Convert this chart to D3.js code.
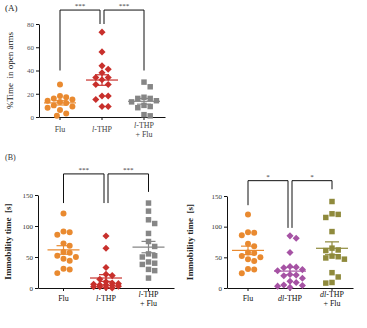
<!DOCTYPE html>
<html>
<head>
<meta charset="utf-8">
<script src="https://cdn.jsdelivr.net/npm/d3@7"></script>
<style>
  body { margin: 0; background: #fff; }
  svg { display: block; font-family: "Liberation Serif", "DejaVu Serif", serif; }
</style>
</head>
<body>
<div id="chart"></div>
<script>
// group names (italic prefix handled when drawing)
const groupsA = ["Flu", "l-THP", "l-THP + Flu"];
const groupsB1 = ["Flu", "l-THP", "l-THP + Flu"];
const groupsB2 = ["Flu", "dl-THP", "dl-THP + Flu"];

// elevated plus maze, % time in open arms
const fluA = [28, 18, 17, 16, 15, 14, 13, 12, 10, 9, 8, 6, 3, 1];
const lthpA = [73, 56, 44, 41, 38, 34, 34, 32, 28, 28, 18, 18, 15, 9, 9];
const lthpFluA = [30, 26, 17, 16, 16, 14, 13, 10, 9, 8, 2, 1];

// forced swim, immobility time [s]
const fluB = [120, 91, 90, 86, 72, 68, 58, 57, 52, 50, 47, 44, 31, 30, 24];
const lthpB = [84, 64, 33, 22, 20, 14, 10, 8, 7, 6, 5, 5, 4, 3, 2, 2, 1, 0];
const lthpFluB = [137, 124, 110, 104, 88, 75, 67, 55, 52, 50, 42, 40, 38, 30, 28, 16];
const dlthpB = [85, 81, 58, 35, 34, 33, 30, 28, 22, 21, 20, 16, 11, 9, 5, 4, 3, 1];
const dlthpFluB = [141, 121, 120, 115, 92, 65, 62, 61, 52, 51, 49, 47, 25, 18, 9, 8];

const ticksA = [0, 20, 40, 60, 80];
const ticksB = [0, 50, 100, 150];

const orange = "#e98a30", red = "#c8302c", gray = "#868686",
      purple = "#a653a4", olive = "#8f8a3c";

const width = 367, height = 328;
const svg = d3.select("#chart").append("svg")
    .attr("width", width)
    .attr("height", height);

const panels = [
  { x0: 39, x1: 165, yTop: 24, yBottom: 117, max: 80, ticks: ticksA, pad: 0,
    groups: groupsA, series: [fluA, lthpA, lthpFluA],
    colors: [orange, red, gray], shapes: ["circle", "diamond", "square"],
    ylabel: "%Time  in open arms", yLabelX: 13, yLabelWeight: "normal",
    tickColor: "#555", labelColor: "#444", labelY: 132,
    stars: "***", barTop: 92, drops: [40, 80, 80, 40] },
  { x0: 38, x1: 174, yTop: 195, yBottom: 288, max: 150, ticks: ticksB, pad: 0.1,
    groups: groupsB1, series: [fluB, lthpB, lthpFluB],
    colors: [orange, red, gray], shapes: ["circle", "diamond", "square"],
    ylabel: "Immobility time  [s]", yLabelX: 11, yLabelWeight: "bold",
    tickColor: "#333", labelColor: "#111", labelY: 301,
    stars: "***", barTop: 184, drops: [137, 137, 137, 155] },
  { x0: 227, x1: 353, yTop: 196, yBottom: 288, max: 150, ticks: ticksB, pad: 0,
    groups: groupsB2, series: [fluB, dlthpB, dlthpFluB],
    colors: [orange, purple, olive], shapes: ["circle", "diamond", "square"],
    ylabel: "Immobility time  [s]", yLabelX: 193, yLabelWeight: "bold",
    tickColor: "#333", labelColor: "#111", labelY: 301,
    stars: "*", barTop: 175, drops: [135, 98, 98, 161] }
];

// panel letters
svg.append("text").attr("x", 5).attr("y", 11).attr("font-size", 9)
  .attr("fill", "#222").text("(A)");
svg.append("text").attr("x", 5).attr("y", 160).attr("font-size", 8)
  .attr("fill", "#333").text("(B)");

// compact beeswarm: points go top-down, each to the slot with least overlap,
// kept within a narrow column so dense groups overlap instead of fanning out
function swarm(values, y, spacing, maxW) {
  const placed = [];
  const sorted = values.slice().sort((a, b) => b - a);
  const slots = [0];
  for (let s = spacing / 2; s <= maxW; s += spacing / 2) slots.push(s, -s);
  sorted.forEach(v => {
    const py = y(v);
    let best = 0, bestCost = Infinity;
    slots.forEach(cand => {
      let cost = 0.02 * Math.abs(cand);
      placed.forEach(p => {
        const d = Math.hypot(p.dx - cand, p.py - py);
        if (d < spacing) cost += spacing - d;
      });
      if (cost < bestCost - 1e-9) { bestCost = cost; best = cand; }
    });
    placed.push({ v, py, dx: best });
  });
  return placed;
}

// one text element per piece; italic prefix (l / dl) measured and set beside the rest
function drawLabel(g, name, x, y, color) {
  const lines = name.split(" + ");
  lines.forEach((line, i) => {
    const ly = y - (lines.length > 1 ? 4 : 0) + i * 9;
    const m = line.match(/^(dl|l)(-.*)$/);
    const parts = m ? [[m[1], "italic"], [m[2], "normal"]]
                    : [[i ? "+ " + line : line, "normal"]];
    const nodes = parts.map(([txt, style]) => g.append("text")
        .attr("y", ly)
        .attr("font-size", 8)
        .attr("font-style", style)
        .attr("fill", color)
        .text(txt));
    const widths = nodes.map(n => n.node().getComputedTextLength());
    let cur = x - d3.sum(widths) / 2;
    nodes.forEach((n, k) => { n.attr("x", cur); cur += widths[k]; });
  });
}

const shapePath = {
  circle: d3.symbol(d3.symbolCircle, 28)(),
  diamond: d3.symbol(d3.symbolSquare, 25)(),
  square: d3.symbol(d3.symbolSquare, 30)()
};

panels.forEach(p => {
  const g = svg.append("g");
  const x = d3.scaleBand().domain(p.groups).range([p.x0, p.x1])
      .paddingInner(0).paddingOuter(p.pad);
  const y = d3.scaleLinear().domain([0, p.max]).range([p.yBottom, p.yTop]);
  const cx = d => x(d) + x.bandwidth() / 2;

  // y axis
  const ya = g.append("g").attr("transform", `translate(${p.x0},0)`)
      .call(d3.axisLeft(y).tickValues(p.ticks).tickSize(3).tickSizeOuter(0).tickPadding(2));
  ya.select(".domain").attr("stroke", "#111");
  ya.selectAll(".tick line").attr("stroke", "#111");
  ya.selectAll("text").attr("font-size", 7).attr("fill", p.tickColor)
    .attr("font-family", "Liberation Serif, serif");

  // x axis
  const xa = g.append("g").attr("transform", `translate(0,${p.yBottom})`)
      .call(d3.axisBottom(x).tickSize(3).tickSizeOuter(0).tickFormat(""));
  xa.select(".domain").attr("stroke", "#111");
  xa.selectAll(".tick line").attr("stroke", "#111");

  p.groups.forEach(name => drawLabel(g, name, cx(name), p.labelY, p.labelColor));

  // y axis title
  g.append("text")
      .attr("transform", `translate(${p.yLabelX},${(p.yTop + p.yBottom) / 2}) rotate(-90)`)
      .attr("text-anchor", "middle")
      .attr("font-size", 9)
      .attr("font-weight", p.yLabelWeight)
      .attr("fill", "#222")
      .attr("xml:space", "preserve")
      .text(p.ylabel);

  // points, mean and SEM
  p.series.forEach((vals, i) => {
    const name = p.groups[i];
    const c = p.colors[i];
    const x0 = cx(name);
    const pts = swarm(vals, y, 6.2, 13);
    const shape = p.shapes[i];
    const rot = shape === "diamond" ? " rotate(45)" : "";
    g.append("g").selectAll("path")
      .data(pts)
      .join("path")
        .attr("d", shapePath[shape])
        .attr("transform", d => `translate(${x0 + d.dx},${d.py})${rot}`)
        .attr("fill", c);

    const mean = d3.mean(vals);
    const sem = d3.deviation(vals) / Math.sqrt(vals.length);
    const stat = g.append("g").attr("stroke", c).attr("stroke-width", 1.2);
    stat.append("line").attr("x1", x0 - 16).attr("x2", x0 + 16)
        .attr("y1", y(mean)).attr("y2", y(mean));
    stat.append("line").attr("x1", x0).attr("x2", x0)
        .attr("y1", y(mean - sem)).attr("y2", y(mean + sem));
    [mean - sem, mean + sem].forEach(v => {
      stat.append("line").attr("x1", x0 - 7).attr("x2", x0 + 7)
          .attr("y1", y(v)).attr("y2", y(v));
    });
  });

  // significance brackets
  const b = g.append("g").attr("fill", "none").attr("stroke", "#111").attr("stroke-width", 1);
  const xs = [cx(p.groups[0]), cx(p.groups[1]) - 2, cx(p.groups[1]) + 2, cx(p.groups[2])];
  const top = y(p.barTop);
  [[0, 1], [2, 3]].forEach(([a, c]) => {
    b.append("path").attr("d",
      `M${xs[a]},${y(p.drops[a])}V${top}H${xs[c]}V${y(p.drops[c])}`);
    g.append("text")
        .attr("x", (xs[a] + xs[c]) / 2).attr("y", top - 2)
        .attr("text-anchor", "middle")
        .attr("font-size", 7)
        .attr("fill", "#333")
        .text(p.stars);
  });
});
</script>
</body>
</html>
